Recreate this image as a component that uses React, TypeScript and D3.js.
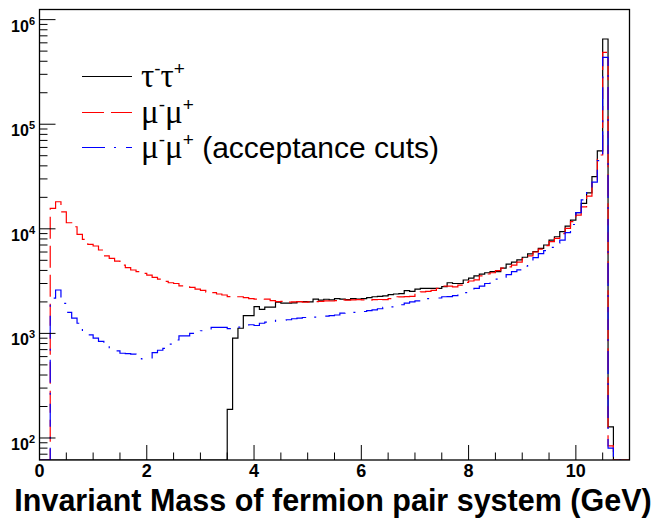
import React from 'react';
import * as d3 from 'd3';

// histogram contents, 110 bins of 0.1 GeV from 0 to 11 GeV
const BIN_WIDTH = 0.1;

const tauTau = [
  0, 0, 0, 0, 0, 0, 0, 0, 0, 0,
  0, 0, 0, 0, 0, 0, 0, 0, 0, 0,
  0, 0, 0, 0, 0, 0, 0, 0, 0, 0,
  0, 0, 0, 0, 0, 188, 900, 1120, 1480, 1480,
  1800, 1700, 1780, 1780, 1990, 1950, 1950, 1960, 2010, 2010,
  2000, 2130, 2080, 2120, 2090, 2150, 2130, 2100, 2150, 2130,
  2150, 2200, 2240, 2260, 2280, 2350, 2380, 2400, 2560, 2520,
  2650, 2700, 2700, 2700, 2700, 2800, 3050, 3000, 3000, 3240,
  3370, 3550, 3680, 3800, 3900, 3900, 4200, 4600, 4800, 5050,
  5350, 5750, 6050, 6500, 7000, 7800, 8400, 9400, 10600, 12100,
  14300, 17500, 22100, 31500, 55500, 653000, 128, 0, 0, 0,
];

const muMu = [
  0, 0, 15700, 18150, 14550, 11430, 10470, 8850, 7940, 7110,
  6850, 6270, 5500, 5220, 4920, 4500, 4250, 4040, 3890, 3750,
  3610, 3440, 3300, 3150, 3050, 3000, 2850, 2780, 2750, 2650,
  2580, 2480, 2450, 2380, 2330, 2250, 2240, 2240, 2200, 2150,
  2130, 2120, 2130, 2060, 2010, 2020, 1990, 2000, 2010, 1990,
  2000, 2010, 2020, 2050, 2040, 2060, 2090, 2080, 2090, 2100,
  2090, 2080, 2100, 2110, 2100, 2150, 2240, 2230, 2250, 2260,
  2480, 2500, 2520, 2580, 2700, 2830, 2830, 2780, 2900, 3080,
  3170, 3250, 3550, 3700, 3800, 3980, 4200, 4330, 4500, 4800,
  5200, 5500, 6000, 6400, 6900, 7550, 8100, 9000, 10100, 11700,
  13500, 16200, 20500, 29300, 50800, 487000, 84, 0, 0, 0,
];

const muMuCuts = [
  0, 0, 2170, 2600, 1940, 1590, 1400, 1250, 1040, 970,
  900, 840, 790, 680, 680, 646, 640, 635, 600, 570,
  570, 655, 690, 720, 790, 865, 945, 945, 1000, 1040,
  1060, 1080, 1140, 1140, 1140, 1110, 1130, 1150, 1200, 1210,
  1190, 1250, 1280, 1300, 1330, 1340, 1350, 1380, 1400, 1420,
  1410, 1430, 1450, 1460, 1480, 1500, 1560, 1570, 1590, 1580,
  1620, 1650, 1680, 1720, 1770, 1790, 1800, 1880, 1950, 2000,
  2050, 2150, 2150, 2150, 2180, 2240, 2250, 2300, 2380, 2450,
  2580, 2700, 2830, 3000, 3180, 3300, 3450, 3650, 3900, 4050,
  4400, 4900, 5300, 5800, 6200, 6650, 7300, 7800, 9200, 11000,
  14300, 18900, 23000, 28000, 44800, 436000, 80, 0, 0, 0,
];

const xMajorTicks = [0, 2, 4, 6, 8, 10];
const legendLabels = [
  { sym: 'τ', extra: '' },
  { sym: 'μ', extra: '' },
  { sym: 'μ', extra: ' (acceptance cuts)' },
];

const series = [
  { data: tauTau, color: '#000000', dash: null },
  { data: muMu, color: '#ff0000', dash: '22 7' },
  { data: muMuCuts, color: '#0000ff', dash: '23 9 2 10' },
];

const W = 657, H = 525;
const frame = { left: 39.5, right: 629.5, top: 9.5, bottom: 460 };
const Y_MIN = 61.6, Y_MAX = 1.25e6;
const FONT = '"Liberation Sans", Arial, Helvetica, sans-serif';
const SYM_FONT = '"Liberation Serif", "DejaVu Serif", serif';

export default function App() {
  const x = d3.scaleLinear().domain([0, 11]).range([frame.left, frame.right]);
  const y = d3.scaleLog().domain([Y_MIN, Y_MAX]).range([frame.bottom, frame.top]);

  const step = d3.line<[number, number]>()
    .x(d => x(d[0]))
    .y(d => y(Math.max(d[1], Y_MIN)))
    .curve(d3.curveStepAfter);

  const toPoints = (vals: number[]): [number, number][] => {
    const pts: [number, number][] = vals.map((v, i) => [i * BIN_WIDTH, v]);
    pts.push([vals.length * BIN_WIDTH, vals[vals.length - 1]]);
    return pts;
  };

  const yTicks = y.ticks().filter(t => t >= Y_MIN && t <= Y_MAX);
  const isDecade = (t: number) => Math.abs(Math.log10(t) - Math.round(Math.log10(t))) < 1e-9;
  const xMinor = d3.range(0, 11.001, 0.5);

  return (
    <div style={{ position: 'absolute', left: 0, top: 0 }}>
      <svg width={W} height={H} style={{ display: 'block', background: '#fff' }}>
        <defs>
          <clipPath id="plotclip">
            <rect x={frame.left} y={frame.top} width={frame.right - frame.left} height={frame.bottom - frame.top} />
          </clipPath>
        </defs>
        <rect x={0} y={0} width={W} height={H} fill="#fff" />

        {/* histograms */}
        <g clipPath="url(#plotclip)">
          {series.map((s, i) => (
            <path key={i} d={step(toPoints(s.data)) || ''} fill="none" stroke={s.color}
              strokeWidth={1.2} strokeDasharray={s.dash || undefined} />
          ))}
        </g>

        {/* frame */}
        <rect x={frame.left} y={frame.top} width={frame.right - frame.left} height={frame.bottom - frame.top}
          fill="none" stroke="#000" strokeWidth={1.3} />

        {/* y axis ticks */}
        {yTicks.map((t, i) => {
          const major = isDecade(t);
          return (
            <line key={'yt' + i} x1={frame.left} x2={frame.left + (major ? 16 : 8)}
              y1={y(t)} y2={y(t)} stroke="#000" strokeWidth={1} />
          );
        })}
        {yTicks.filter(isDecade).map((t, i) => (
          <text key={'yl' + i} x={35} y={y(t) + 12} textAnchor="end"
            fontFamily={FONT} fontWeight="bold" fontSize={16}>
            10<tspan fontSize={11} dy={-7}>{Math.round(Math.log10(t))}</tspan>
          </text>
        ))}

        {/* x axis ticks */}
        {xMinor.map((t, i) => {
          const major = xMajorTicks.includes(t);
          return (
            <line key={'xt' + i} x1={x(t)} x2={x(t)} y1={frame.bottom}
              y2={frame.bottom - (major ? 15 : 7.5)} stroke="#000" strokeWidth={1} />
          );
        })}
        {xMajorTicks.map((t, i) => (
          <text key={'xl' + i} x={x(t)} y={477} textAnchor="middle"
            fontFamily={FONT} fontWeight="bold" fontSize={18}>{t}</text>
        ))}

        <text x={333} y={511} textAnchor="middle" fontFamily={FONT} fontWeight="bold"
          fontSize={30.5}>
          Invariant Mass of fermion pair system (GeV)
        </text>

        {/* legend */}
        {legendLabels.map((l, i) => {
          const ly = Math.round(76 + i * 35.5) + 0.5;
          return (
            <g key={'lg' + i}>
              <line x1={82} x2={132} y1={ly} y2={ly} stroke={series[i].color}
                strokeWidth={1.2} strokeDasharray={series[i].dash || undefined} />
              <text x={141} y={ly + 10} fontFamily={FONT} fontSize={30}>
                <tspan fontFamily={SYM_FONT} fontSize={33}>{l.sym}</tspan>
                <tspan fontSize={19} dy={-12}>-</tspan>
                <tspan dy={12} fontFamily={SYM_FONT} fontSize={33}>{l.sym}</tspan>
                <tspan fontSize={19} dy={-12}>+</tspan>
                {l.extra ? <tspan dy={12}>{l.extra}</tspan> : null}
              </text>
            </g>
          );
        })}
      </svg>
    </div>
  );
}
